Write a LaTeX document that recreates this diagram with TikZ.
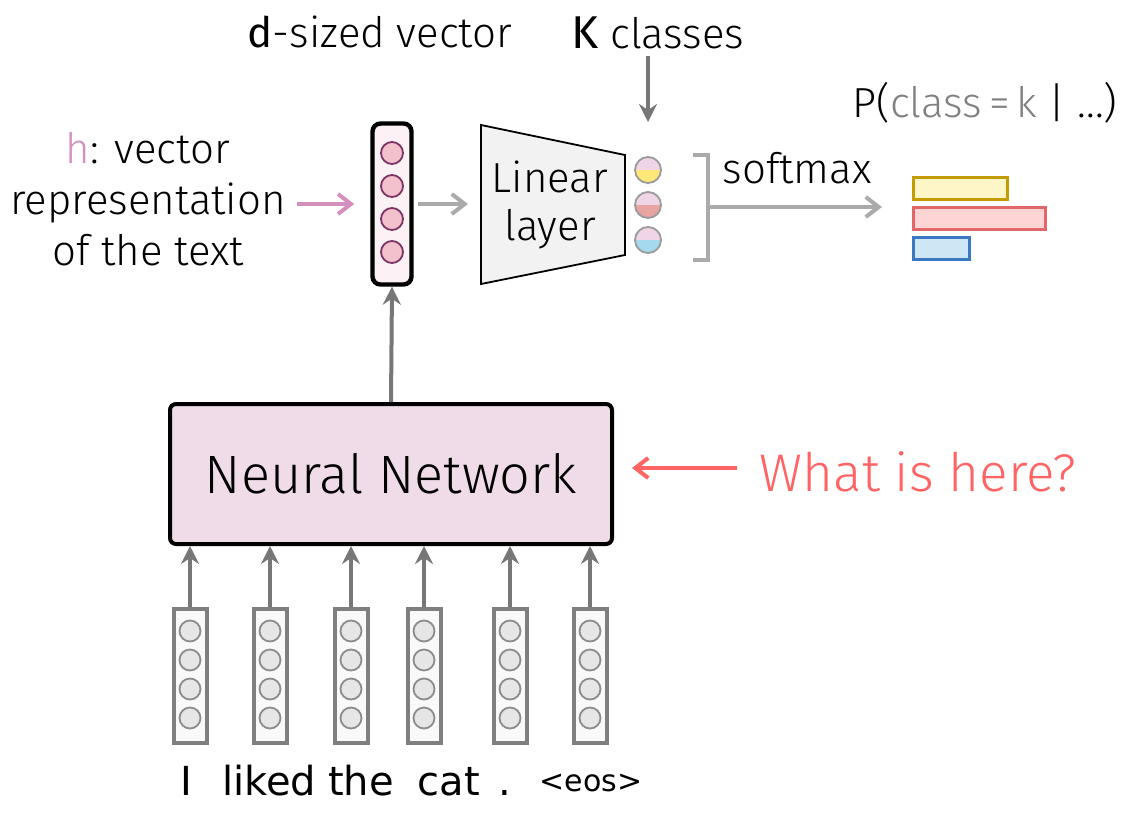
\documentclass[tikz,border=0pt]{standalone}
\usepackage{fontspec}
\setmainfont{Fira Sans Light}
\newfontfamily\regfont{Fira Sans}
\newfontfamily\handfont{DejaVu Sans}
\usetikzlibrary{arrows.meta, positioning}

\definecolor{hpink}{HTML}{D38FBD}
\definecolor{lightarr}{HTML}{AAAAAA}
\definecolor{darkarr}{HTML}{777777}
\definecolor{hfill}{HTML}{FCF1F4}
\definecolor{hdotfill}{HTML}{F2C1CD}
\definecolor{hdotline}{HTML}{7D3466}
\definecolor{linfill}{HTML}{F2F2F2}
\definecolor{outtop}{HTML}{EFD5E6}
\definecolor{outyellow}{HTML}{FFE878}
\definecolor{outred}{HTML}{E9A3A0}
\definecolor{outblue}{HTML}{A5DAEE}
\definecolor{outline}{HTML}{9A9A9A}
\definecolor{ybar}{HTML}{C49B00}
\definecolor{ybarfill}{HTML}{FFF6C8}
\definecolor{rbar}{HTML}{E06868}
\definecolor{rbarfill}{HTML}{FFD4D4}
\definecolor{bbar}{HTML}{3A78C4}
\definecolor{bbarfill}{HTML}{CDE8F4}
\definecolor{nnfill}{HTML}{F0DCE8}
\definecolor{whatred}{HTML}{FF6363}
\definecolor{tokline}{HTML}{7F7F7F}
\definecolor{tokfill}{HTML}{F9F9F9}
\definecolor{tokdot}{HTML}{E6E6E6}
\definecolor{tokdotline}{HTML}{8C8C8C}
\definecolor{pgray}{HTML}{808080}

\begin{document}
\begin{tikzpicture}[x=0.5pt, y=-0.5pt,
    font=\fontsize{21}{25.5}\selectfont,
    barb/.style={-{Straight Barb[length=6.5pt,width=10pt,line width=2pt]}, line width=2pt},
    uparr/.style={-{Stealth[length=9pt,width=9pt,inset=3pt]}, line width=2pt, darkarr},
    hbox/.style={draw, line width=2.2pt, rounded corners=4pt, fill=hfill, minimum width=19.5pt, minimum height=80.5pt},
    hdot/.style={circle, draw=hdotline, line width=0.9pt, fill=hdotfill, minimum size=11pt, inner sep=0pt},
    outdot/.style={circle, draw=outline, line width=0.9pt, fill=outtop, minimum size=13pt, inner sep=0pt},
    bar/.style={line width=1.6pt, minimum height=11pt, anchor=north west, inner sep=0pt},
    tokbox/.style={draw=tokline, line width=2pt, fill=tokfill, minimum width=16.5pt, minimum height=67pt},
    tokdot/.style={circle, draw=tokdotline, line width=0.9pt, fill=tokdot, minimum size=10.5pt, inner sep=0pt}]
  \useasboundingbox (0,0) rectangle (1128,814);

  % top labels
  \node (dsize) at (380,32) {{\regfont d}-sized vector};
  \node (kcls) at (658,33) {{\regfont\fontsize{23}{25}\selectfont K}~classes};
  \node (prob) at (985,103) {P(\textcolor{pgray}{class\,=\,k}~|~...)};

  % text vector h
  \node[align=center] (hlab) at (148,199) {\textcolor{hpink}{h}: vector\\representation\\of the text};
  \node[hbox] (hvec) at (392,204) {};
  \foreach \y [count=\i] in {153,186,219,252}
    \node[hdot] (h\i) at (392,\y) {};
  \draw[barb, hpink, shorten <=2pt, shorten >=8pt] (hlab.east |- hvec) -- (hvec.west);

  % linear layer
  \draw[fill=linfill, line width=0.9pt] (481,125) -- (625,155) -- (625,255) -- (481,284) -- cycle;
  \node[align=center, font=\fontsize{21}{24}\selectfont] (lin) at (550,205) {Linear\\layer};
  \coordinate (linin) at (468,204);
  \draw[barb, lightarr, shorten <=2pt] (hvec.east) -- (linin);

  % output scores
  \foreach \y/\c [count=\i] in {170/outyellow,205/outred,240/outblue}
    \node[outdot, path picture={\fill[\c] (path picture bounding box.west) rectangle (path picture bounding box.south east);}] (o\i) at (648,\y) {};
  \coordinate (ktip) at (648,122);
  \draw[uparr] (kcls.south -| ktip) -- (ktip);

  % softmax
  \draw[lightarr, line width=2pt] (693,155) -- (708,155) -- (708,260) -- (693,260);
  \coordinate (brmid) at (708,207);
  \coordinate (smtip) at (882,207);
  \node (smax) at (797,168) {softmax};
  \draw[barb, lightarr] (brmid) -- (smtip);

  % probabilities
  \node[bar, draw=ybar, fill=ybarfill, minimum width=47pt] (p1) at (912,176) {};
  \node[bar, draw=rbar, fill=rbarfill, minimum width=66pt] (p2) at (912,206) {};
  \node[bar, draw=bbar, fill=bbarfill, minimum width=28pt] (p3) at (912,236) {};

  % network
  \node[draw, line width=2pt, rounded corners=3pt, fill=nnfill, minimum width=221pt, minimum height=70pt,
        font=\fontsize{27}{30}\selectfont] (nn) at (391,474) {Neural Network};
  \draw[uparr] (nn.north) -- (hvec.south);

  \node[text=whatred, font=\fontsize{26.5}{32}\selectfont] (what) at (918,472) {What is here?};
  \coordinate (wtip) at (632,468);
  \draw[barb, whatred, shorten <=8pt] (what.west |- wtip) -- (wtip);

  % input tokens
  \foreach \x [count=\i] in {190,270,351,424,510,590} {
    \node[tokbox] (t\i) at (\x,676) {};
    \foreach \y [count=\j] in {631,660,689,718}
      \node[tokdot] (t\i d\j) at (\x,\y) {};
    \draw[uparr] (t\i.north) -- (t\i.north |- nn.south);
  }
  \foreach \x/\w [count=\i] in {186/I,269/liked,361/the,449/cat,505/.}
    \node[anchor=base, font=\handfont\fontsize{20}{24}\selectfont] (w\i) at (\x,795) {\w};
  \node[anchor=base, font=\handfont\fontsize{15}{18}\selectfont] (w6) at (591,791) {<eos>};
\end{tikzpicture}
\end{document}
